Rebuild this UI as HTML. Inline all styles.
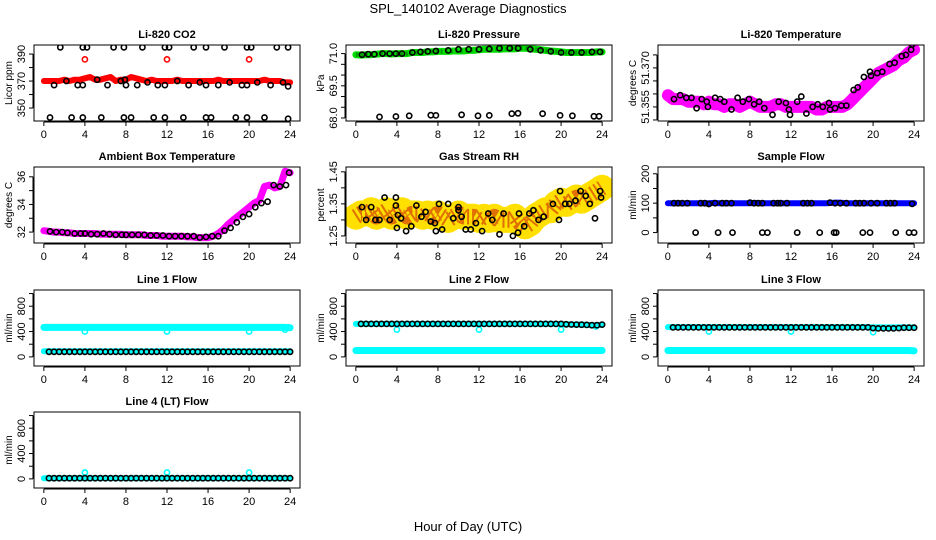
<!DOCTYPE html>
<html><head><meta charset="utf-8">
<style>
html,body{margin:0;padding:0;background:#fff;}
svg{display:block;font-family:"Liberation Sans",sans-serif;}
</style></head>
<body>
<svg id="chart" width="936" height="540" viewBox="0 0 936 540" xmlns="http://www.w3.org/2000/svg">
<text x="468" y="13" text-anchor="middle" font-size="13">SPL_140102  Average Diagnostics</text>
<text x="468" y="531" text-anchor="middle" font-size="13">Hour of Day (UTC)</text>
</svg>
<script>
// ---- data (half-hour grid traces, black hourly averages) ----
const xTicks = [0,4,8,12,16,20,24];
const co2Trace = [370,370,370,370,371,370,371,371,372,373,371,371,372,373,370,371,371,373,372,371,370,371,370,370,370,370,371,370,370,370,370,370,370,370,371,370,370,370,370,370,370,370,370,371,370,370,370,369,369];
const co2BlackX = [1.6,3.8,4.2,6.8,7.8,9.6,11.8,12.2,14.6,15.8,17.6,19.8,20.2,22.7,23.8, 1.0,2.2,3.3,3.8,5.2,6.2,7.5,7.9,8.0,9.1,10.1,11.1,11.8,13.0,14.1,15.2,15.8,17.0,18.1,19.3,19.8,20.8,22.1,23.3,23.8, 0.6,2.7,3.8,5.6,7.8,8.5,10.7,11.8,13.6,15.8,16.3,18.7,19.8,21.5,23.8];
const co2BlackY = [395,395,395,395,395,395,395,395,395,395,395,395,395,395,395, 367,370,367,367,371,367,370,371,367,367,369,367,367,370,367,369,367,367,369,367,367,369,367,369,366, 343,343,343,343,343,343,343,343,343,343,343,343,343,343,342];
const co2RedX = [4,12,20];
const co2RedY = [386,386,386];

const presTrace = [70.95,70.93,70.95,70.95,70.97,71.0,71.0,70.98,71.0,71.0,71.0,71.05,71.05,71.05,71.08,71.08,71.1,71.1,71.1,71.12,71.12,71.12,71.15,71.15,71.18,71.2,71.2,71.2,71.2,71.22,71.22,71.22,71.25,71.25,71.22,71.2,71.18,71.15,71.12,71.1,71.08,71.05,71.05,71.05,71.05,71.05,71.05,71.08,71.08];
const presBlackX = [0.6,1.2,1.8,2.6,3.3,3.9,4.5,5.5,6.3,7.0,7.8,9.0,10.0,11.0,12.0,13.0,14.0,15.0,15.8,17.0,18.0,19.0,20.0,21.0,22.0,23.0,23.8, 2.3,3.9,5.2,7.3,7.8,10.3,11.9,13.0,15.2,15.8,18.2,19.9,21.1,23.2,23.7];
const presBlackY = [70.95,70.97,70.97,71.0,71.0,71.0,71.0,71.05,71.08,71.1,71.12,71.15,71.2,71.2,71.2,71.22,71.25,71.25,71.25,71.2,71.15,71.1,71.05,71.05,71.05,71.08,71.08, 68.05,68.07,68.1,68.13,68.12,68.15,68.1,68.12,68.2,68.22,68.2,68.12,68.1,68.08,68.08];

const tempTrace = [51.3595,51.358,51.358,51.358,51.357,51.357,51.357,51.356,51.357,51.356,51.356,51.355,51.356,51.356,51.355,51.356,51.357,51.356,51.355,51.355,51.355,51.356,51.356,51.355,51.355,51.355,51.355,51.355,51.355,51.354,51.354,51.355,51.355,51.355,51.355,51.356,51.358,51.360,51.362,51.364,51.366,51.368,51.369,51.370,51.371,51.373,51.374,51.376,51.377];
const tempBlackX = [0.6,1.2,1.8,2.3,2.8,3.3,3.8,3.9,4.6,5.1,5.5,6.2,6.8,7.3,7.9,8.4,8.9,9.4,10.2,10.8,11.5,11.8,11.9,12.6,13.0,13.5,14.1,14.6,15.1,15.7,15.8,16.3,16.9,17.4,18.1,18.5,19.1,19.7,19.8,20.4,20.9,21.6,22.1,22.8,23.2,23.7,23.8];
const tempBlackY = [51.358,51.3595,51.3585,51.3585,51.3545,51.358,51.357,51.355,51.3585,51.358,51.357,51.354,51.3585,51.357,51.358,51.356,51.357,51.3545,51.352,51.357,51.3565,51.354,51.352,51.357,51.359,51.3525,51.355,51.356,51.355,51.3565,51.354,51.3545,51.3555,51.3555,51.3615,51.3625,51.3665,51.3685,51.367,51.368,51.3685,51.3715,51.372,51.3745,51.375,51.377,51.379];

const ambTrace = [32.1,32.05,32.0,32.0,31.95,31.95,31.9,31.9,31.9,31.9,31.9,31.85,31.85,31.85,31.85,31.85,31.8,31.8,31.8,31.8,31.75,31.75,31.75,31.7,31.7,31.7,31.7,31.7,31.65,31.65,31.6,31.6,31.6,31.7,31.9,32.2,32.6,32.9,33.2,33.5,33.8,34.1,34.3,35.3,35.4,35.2,35.3,36.4,36.3];
const ambBlackX = [0.6,1.2,1.8,2.3,3.0,3.6,4.0,4.6,5.2,5.8,6.4,7.0,7.6,8.0,8.6,9.2,9.8,10.4,11.0,11.6,12.2,12.8,13.4,14.0,14.6,15.2,15.8,16.4,17.0,17.6,18.2,18.8,19.4,20.0,20.6,21.2,21.8,22.4,23.0,23.6,23.9];
const ambBlackY = [32.05,32.0,32.0,31.95,31.9,31.9,31.9,31.85,31.85,31.9,31.85,31.8,31.8,31.8,31.8,31.8,31.8,31.75,31.75,31.75,31.7,31.7,31.7,31.7,31.7,31.6,31.65,31.7,31.7,32.1,32.3,32.7,33.1,33.3,33.8,34.1,34.2,35.4,35.3,35.4,36.3];

const rhTrace = [1.31,1.32,1.32,1.33,1.31,1.32,1.33,1.31,1.32,1.33,1.31,1.32,1.32,1.31,1.32,1.31,1.32,1.31,1.30,1.31,1.32,1.31,1.31,1.31,1.30,1.31,1.30,1.31,1.30,1.30,1.30,1.31,1.29,1.28,1.29,1.31,1.32,1.33,1.33,1.35,1.36,1.35,1.36,1.37,1.36,1.37,1.38,1.39,1.40];
const rhBlackX = [0.6,1.0,1.5,1.9,2.3,2.8,3.3,3.9,3.9,4.0,4.1,4.4,4.9,5.4,5.9,6.4,6.8,7.3,7.7,7.8,8.1,8.4,9.0,9.5,10.0,10.0,10.3,10.7,11.2,11.7,12.3,12.9,13.3,14.0,14.4,15.3,15.8,15.9,16.4,16.9,17.3,17.8,18.3,19.2,19.8,19.9,20.4,20.8,21.4,21.9,22.4,22.8,23.3,23.8,23.9];
const rhBlackY = [1.34,1.30,1.34,1.30,1.30,1.37,1.30,1.37,1.345,1.275,1.315,1.305,1.265,1.28,1.345,1.31,1.325,1.295,1.29,1.265,1.35,1.27,1.35,1.305,1.34,1.33,1.31,1.27,1.27,1.29,1.265,1.32,1.30,1.255,1.32,1.25,1.26,1.32,1.28,1.32,1.33,1.30,1.31,1.35,1.30,1.39,1.35,1.35,1.36,1.39,1.375,1.35,1.305,1.39,1.37];

const flowTrace = [100,100,100,100,100,100,100,100,100,101,100,100,100,100,100,100,100,101,100,100,100,100,100,100,100,100,100,100,100,100,100,100,101,102,101,100,100,100,100,100,100,100,100,100,100,100,100,100,100];
const flowBlackX = [0.6,1.0,1.4,1.9,3.2,3.6,4.0,4.6,5.3,5.7,6.2,8.0,8.4,8.8,9.2,10.3,10.7,11.0,11.6,13.2,13.6,14.0,15.8,16.3,16.8,17.4,18.3,18.7,19.1,19.8,20.4,21.3,21.7,22.1,23.8, 2.7,4.9,6.3,9.2,9.7,12.6,14.8,16.2,19.0,19.7,22.2,24.0,23.5,16.4];
const flowBlackY = [100,100,100,100,100,100,97,100,100,100,100,102,100,100,100,100,100,100,100,100,100,100,102,100,100,100,100,100,100,100,100,100,100,100,98, 0,0,0,0,0,0,0,0,0,0,0,0,0,0];

const l1Cyan = [465,465,465,465,465,465,465,465,465,465,465,465,465,465,465,465,465,465,465,465,465,465,465,465,465,465,465,465,465,465,465,465,465,465,465,465,465,465,465,465,465,465,465,465,465,465,465,465,460];
const l1CyanLow = [90,90,90,90,90,90,90,90,90,90,90,90,90,90,90,90,90,90,90,90,90,90,90,90,90,90,90,90,90,90,90,90,90,90,90,90,90,90,90,90,90,90,90,90,90,90,90,90,90];
const l1Black = [80,80,80,80,80,80,80,80,80,80,80,80,80,80,80,80,80,80,80,80,80,80,80,80,80,80,80,80,80,80,80,80,80,80,80,80,80,80,80,80,80,80,80,80,80,80,80,80];
const l1OutX = [4,12,20,23.5];
const l1OutY = [400,400,400,430];

const l2CyanLow = [100,100,100,100,100,100,100,100,100,100,100,100,100,100,100,100,100,100,100,100,100,100,100,100,100,100,100,100,100,100,100,100,100,100,100,100,100,100,100,100,100,100,100,100,100,100,100,100,100];
const l2CyanHigh = [520,520,520,520,520,520,520,520,520,520,520,520,520,520,520,520,520,520,520,520,520,520,520,520,520,520,520,520,520,520,520,520,520,520,520,520,520,520,520,520,515,515,512,510,510,505,500,500,510];
const l2Black = [520,520,520,520,520,520,520,520,520,520,520,520,520,520,520,520,520,520,520,520,520,520,520,520,520,520,520,520,520,520,520,520,520,520,520,520,520,520,520,520,515,512,510,508,505,500,500,510];
const l2OutX = [4,12,20,23.4];
const l2OutY = [430,430,430,480];

const l3CyanLow = [100,100,100,100,100,100,100,100,100,100,100,100,100,100,100,100,100,100,100,100,100,100,100,100,100,100,100,100,100,100,100,100,100,100,100,100,100,100,100,100,100,100,100,100,100,100,100,100,95];
const l3CyanHigh = [470,470,470,470,470,470,470,470,470,470,470,470,470,470,470,470,470,470,470,470,470,470,470,470,470,470,470,470,470,470,470,470,470,470,470,470,470,470,470,470,465,465,465,465,465,465,465,465,465];
const l3Black = [465,465,465,465,465,465,465,465,465,465,465,465,465,465,465,465,465,465,465,465,465,465,465,465,465,465,465,465,465,465,465,465,465,465,465,465,465,465,465,455,450,450,450,450,455,460,460,460];
const l3OutX = [4,12,20];
const l3OutY = [400,400,390];

const l4Cyan = [10,10,10,10,10,10,10,10,10,10,10,10,10,10,10,10,10,10,10,10,10,10,10,10,10,10,10,10,10,10,10,10,10,10,10,10,10,10,10,10,10,10,10,10,10,10,10,10,10];
const l4Black = [10,10,10,10,10,10,10,10,10,10,10,10,10,10,10,10,10,10,10,10,10,10,10,10,10,10,10,10,10,10,10,10,10,10,10,10,10,10,10,10,10,10,10,10,10,10,10,10];
const l4OutX = [4,12,20];
const l4OutY = [100,100,100];

// ---- drawing ----
const svg = document.getElementById('chart');
const NS = 'http://www.w3.org/2000/svg';
const colLeft = [34, 346, 658];
const rowTop = [45, 167, 290, 412];
const BW = 266, BH = 76;

function mk(tag, parent) { const e = document.createElementNS(NS, tag); parent.appendChild(e); return e; }

function panel(name, col, row, title, ylab, ymin, ymax, yTicks, yLabels, layers) {
  const L = colLeft[col], T = rowTop[row];
  const g = mk('g', svg);
  
  
  const xS = v => L + (v + 0.96) / 25.92 * BW;
  const yS = v => T + BH - (v - ymin) / (ymax - ymin) * BH;
  const clip = mk('clipPath', g); clip.setAttribute('id', 'c-' + name);
  const cr = mk('rect', clip); cr.setAttribute('x', L); cr.setAttribute('y', T); cr.setAttribute('width', BW); cr.setAttribute('height', BH);
  const marks = mk('g', g); marks.setAttribute('clip-path', 'url(#c-' + name + ')');
  
  
  layers.forEach(ly => {
    if (ly.type === 'band') {
      const pts = ly.vals.map((v, i) => xS(i * 0.5).toFixed(1) + ',' + yS(v).toFixed(1)).join(' ');
      const pl = mk('polyline', marks);
      
      
      pl.setAttribute('points', pts); pl.setAttribute('fill', 'none');
      pl.setAttribute('stroke', ly.color); pl.setAttribute('stroke-width', ly.width);
      pl.setAttribute('stroke-linejoin', 'round'); pl.setAttribute('stroke-linecap', 'round');
      if (ly.dash) {
        const p2 = mk('polyline', marks);
        
        
        p2.setAttribute('points', pts); p2.setAttribute('fill', 'none');
        p2.setAttribute('stroke', ly.dash); p2.setAttribute('stroke-width', ly.width * 0.6);
        p2.setAttribute('stroke-dasharray', '2 3'); p2.setAttribute('stroke-linejoin', 'round');
      }
    } else {
      const xs = ly.xs || ly.ys.map((v, i) => 0.5 + i * 0.5);
      ly.ys.forEach((v, i) => {
        const c = mk('circle', marks);
        
        
        c.setAttribute('cx', xS(xs[i]).toFixed(1)); c.setAttribute('cy', yS(v).toFixed(1));
        c.setAttribute('r', 2.6); c.setAttribute('fill', 'none');
        c.setAttribute('stroke', ly.color); c.setAttribute('stroke-width', 1.6);
      });
    }
  });
  const box = mk('rect', g);
  
  
  box.setAttribute('x', L); box.setAttribute('y', T); box.setAttribute('width', BW); box.setAttribute('height', BH);
  box.setAttribute('fill', 'none'); box.setAttribute('stroke', '#000'); box.setAttribute('stroke-width', 1);
  const tt = mk('text', g);
  
  
  tt.setAttribute('x', L + BW / 2); tt.setAttribute('y', T - 7); tt.setAttribute('text-anchor', 'middle');
  tt.setAttribute('font-size', '11'); tt.setAttribute('font-weight', 'bold'); tt.textContent = title;
  // x axis
  const xa = mk('g', g);
  
  
  const xl = mk('line', xa); xl.setAttribute('x1', xS(0)); xl.setAttribute('x2', xS(24));
  xl.setAttribute('y1', T + BH + 1); xl.setAttribute('y2', T + BH + 1); xl.setAttribute('stroke', '#000');
  xTicks.forEach(t => {
    const tk = mk('line', xa); tk.setAttribute('x1', xS(t)); tk.setAttribute('x2', xS(t));
    tk.setAttribute('y1', T + BH + 1); tk.setAttribute('y2', T + BH + 5); tk.setAttribute('stroke', '#000');
    const lb = mk('text', xa);
    
    
    lb.setAttribute('x', xS(t)); lb.setAttribute('y', T + BH + 17); lb.setAttribute('text-anchor', 'middle');
    lb.setAttribute('font-size', '11'); lb.textContent = t;
  });
  // y axis
  const ya = mk('g', g);
  
  
  const yl = mk('line', ya); yl.setAttribute('x1', L - 1); yl.setAttribute('x2', L - 1);
  yl.setAttribute('y1', yS(yTicks[0])); yl.setAttribute('y2', yS(yTicks[yTicks.length - 1])); yl.setAttribute('stroke', '#000');
  yTicks.forEach(t => {
    const tk = mk('line', ya); tk.setAttribute('x1', L - 5); tk.setAttribute('x2', L - 1);
    tk.setAttribute('y1', yS(t)); tk.setAttribute('y2', yS(t)); tk.setAttribute('stroke', '#000');
  });
  yLabels.forEach(t => {
    const lb = mk('text', ya);
    
    
    const x = L - 9, y = yS(t);
    lb.setAttribute('transform', 'translate(' + x + ',' + y + ') rotate(-90)');
    lb.setAttribute('text-anchor', 'middle'); lb.setAttribute('font-size', '11'); lb.textContent = t;
  });
  const yt = mk('text', g);
  
  
  yt.setAttribute('transform', 'translate(' + (L - 22) + ',' + (T + BH / 2) + ') rotate(-90)');
  yt.setAttribute('text-anchor', 'middle'); yt.setAttribute('font-size', '10'); yt.textContent = ylab;
}

panel('co2-panel', 0, 0, 'Li-820 CO2', 'Licor ppm', 340.4, 396.7, [350,360,370,380,390], ['350','370','390'], [
  {type:'band', name:'co2-trace', vals:co2Trace, color:'#ff0000', width:6},
  {type:'pts', name:'co2-outlier', xs:co2RedX, ys:co2RedY, color:'#ff0000'},
  {type:'pts', name:'co2-avg-point', xs:co2BlackX, ys:co2BlackY, color:'#000'}]);
panel('pressure-panel', 1, 0, 'Li-820 Pressure', 'kPa', 67.86, 71.4, [68.0,68.5,69.0,69.5,70.0,70.5,71.0], ['68.0','69.5','71.0'], [
  {type:'band', name:'pressure-trace', vals:presTrace, color:'#00dd00', width:7, dash:'#009900'},
  {type:'pts', name:'pressure-avg-point', xs:presBlackX, ys:presBlackY, color:'#000'}]);
panel('temperature-panel', 2, 0, 'Li-820 Temperature', 'degrees C', 51.3496, 51.3788, [51.350,51.355,51.360,51.365,51.370,51.375], ['51.355','51.370'], [
  {type:'band', name:'temperature-trace', vals:tempTrace, color:'#ff00ff', width:12},
  {type:'pts', name:'temperature-avg-point', xs:tempBlackX, ys:tempBlackY, color:'#000'}]);
panel('ambient-panel', 0, 1, 'Ambient Box Temperature', 'degrees C', 31.21, 36.71, [32,33,34,35,36], ['32','34','36'], [
  {type:'band', name:'ambient-trace', vals:ambTrace, color:'#ff00ff', width:7},
  {type:'pts', name:'ambient-avg-point', xs:ambBlackX, ys:ambBlackY, color:'#000'}]);
panel('rh-panel', 1, 1, 'Gas Stream RH', 'percent', 1.228, 1.465, [1.25,1.30,1.35,1.40,1.45], ['1.25','1.35','1.45'], [
  {type:'band', name:'rh-trace', vals:rhTrace, color:'#ffe000', width:26, dash:'#e07000'},
  {type:'pts', name:'rh-avg-point', xs:rhBlackX, ys:rhBlackY, color:'#000'}]);
panel('sample-flow-panel', 2, 1, 'Sample Flow', 'ml/min', -35.5, 223, [0,50,100,150,200], ['0','100','200'], [
  {type:'band', name:'sample-flow-trace', vals:flowTrace, color:'#0000ff', width:6},
  {type:'pts', name:'sample-flow-avg-point', xs:flowBlackX, ys:flowBlackY, color:'#000'}]);
const flowTicks = [0,200,400,600,800,1000];
const flowLabels = ['0','400','800'];
panel('line1-panel', 0, 2, 'Line 1 Flow', 'ml/min', -144, 1056, flowTicks, flowLabels, [
  {type:'band', name:'line1-trace-high', vals:l1Cyan, color:'#00ffff', width:7},
  {type:'band', name:'line1-trace-low', vals:l1CyanLow, color:'#00ffff', width:6},
  {type:'pts', name:'line1-outlier', xs:l1OutX, ys:l1OutY, color:'#00ffff'},
  {type:'pts', name:'line1-avg-point', ys:l1Black, color:'#000'}]);
panel('line2-panel', 1, 2, 'Line 2 Flow', 'ml/min', -144, 1056, flowTicks, flowLabels, [
  {type:'band', name:'line2-trace-high', vals:l2CyanHigh, color:'#00ffff', width:6},
  {type:'band', name:'line2-trace-low', vals:l2CyanLow, color:'#00ffff', width:7},
  {type:'pts', name:'line2-outlier', xs:l2OutX, ys:l2OutY, color:'#00ffff'},
  {type:'pts', name:'line2-avg-point', ys:l2Black, color:'#000'}]);
panel('line3-panel', 2, 2, 'Line 3 Flow', 'ml/min', -144, 1056, flowTicks, flowLabels, [
  {type:'band', name:'line3-trace-high', vals:l3CyanHigh, color:'#00ffff', width:6},
  {type:'band', name:'line3-trace-low', vals:l3CyanLow, color:'#00ffff', width:7},
  {type:'pts', name:'line3-outlier', xs:l3OutX, ys:l3OutY, color:'#00ffff'},
  {type:'pts', name:'line3-avg-point', ys:l3Black, color:'#000'}]);
panel('line4-panel', 0, 3, 'Line 4 (LT) Flow', 'ml/min', -144, 1056, flowTicks, flowLabels, [
  {type:'band', name:'line4-trace', vals:l4Cyan, color:'#00ffff', width:6},
  {type:'pts', name:'line4-outlier', xs:l4OutX, ys:l4OutY, color:'#00ffff'},
  {type:'pts', name:'line4-avg-point', ys:l4Black, color:'#000'}]);
</script>
</body></html>
